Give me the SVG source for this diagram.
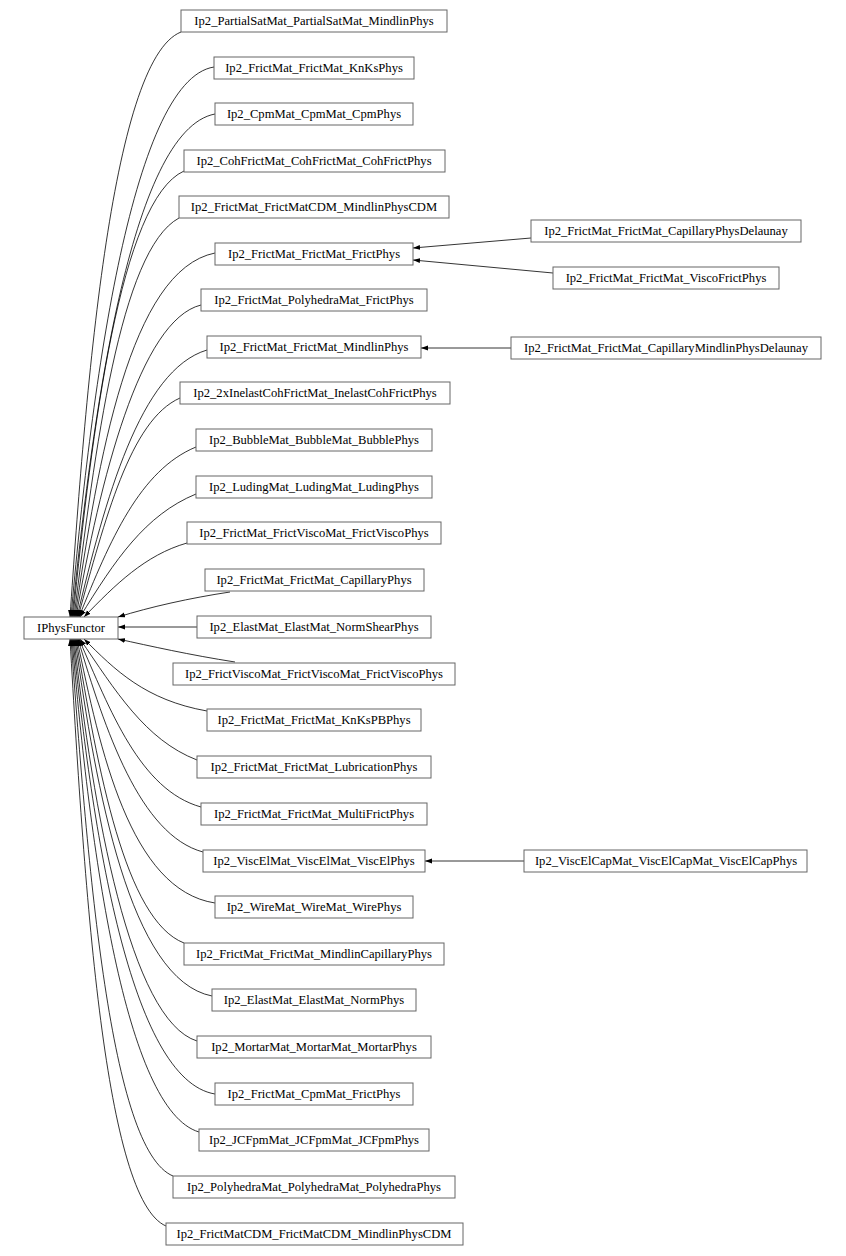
<svg xmlns="http://www.w3.org/2000/svg" width="846" height="1256" viewBox="0 0 846 1256">
<style>
.n rect{fill:#fff;stroke:#666;stroke-width:1}
text{font-family:"Liberation Serif",serif;font-size:12.6px;text-anchor:middle;fill:#000}
.e path{fill:none;stroke:#000;stroke-width:0.8}
</style>
<defs><marker id="a" viewBox="0 0 10 10" refX="10" refY="5" markerWidth="7" markerHeight="7" markerUnits="userSpaceOnUse" orient="auto"><path d="M0,1.5L10,5L0,8.5z" fill="#000"/></marker></defs>
<rect width="846" height="1256" style="fill:#fff;stroke:none"/>
<g class="e">
<path d="M181,32C110,60 85,400 70,617" marker-end="url(#a)"/>
<path d="M214,67C130,80 90,400 71,617" marker-end="url(#a)"/>
<path d="M215,114C130,130 92,420 72,617" marker-end="url(#a)"/>
<path d="M184,171C120,200 92,430 73,617" marker-end="url(#a)"/>
<path d="M179,218C120,250 95,450 74,617" marker-end="url(#a)"/>
<path d="M215,253C130,270 98,460 75,617" marker-end="url(#a)"/>
<path d="M201,305C140,320 100,480 76,617" marker-end="url(#a)"/>
<path d="M207,350C140,370 105,500 77,617" marker-end="url(#a)"/>
<path d="M180,398C130,420 105,520 78,617" marker-end="url(#a)"/>
<path d="M196,447C140,470 110,540 79,617" marker-end="url(#a)"/>
<path d="M196,494C145,515 115,560 80,617" marker-end="url(#a)"/>
<path d="M187,543C145,555 115,585 84,617" marker-end="url(#a)"/>
<path d="M230,592C190,598 150,607 118,617" marker-end="url(#a)"/>
<path d="M197,627L118,627" marker-end="url(#a)"/>
<path d="M235,662C190,655 150,646 118,639" marker-end="url(#a)"/>
<path d="M207,711C145,700 115,670 84,639" marker-end="url(#a)"/>
<path d="M197,760C145,740 115,690 80,639" marker-end="url(#a)"/>
<path d="M201,807C140,790 110,710 79,639" marker-end="url(#a)"/>
<path d="M203,852C140,835 105,730 78,639" marker-end="url(#a)"/>
<path d="M215,903C130,890 100,750 77,639" marker-end="url(#a)"/>
<path d="M184,943C125,920 98,770 76,639" marker-end="url(#a)"/>
<path d="M212,996C130,980 96,790 75,639" marker-end="url(#a)"/>
<path d="M197,1041C130,1020 93,810 74,639" marker-end="url(#a)"/>
<path d="M215,1094C130,1080 92,830 73,639" marker-end="url(#a)"/>
<path d="M199,1132C125,1110 90,850 72,639" marker-end="url(#a)"/>
<path d="M173,1176C110,1150 88,870 71,639" marker-end="url(#a)"/>
<path d="M166,1226C105,1200 85,900 70,639" marker-end="url(#a)"/>
<path d="M531,238L413,248" marker-end="url(#a)"/>
<path d="M553,273L413,260" marker-end="url(#a)"/>
<path d="M511,348L421,348" marker-end="url(#a)"/>
<path d="M524,861L425,861" marker-end="url(#a)"/>
</g>
<g class="n">
<g id="IPhysFunctor"><rect x="24" y="617" width="94" height="22"/><text x="71" y="632">IPhysFunctor</text></g>
<g id="n0"><rect x="181" y="10" width="266" height="22"/><text x="314" y="25">Ip2_PartialSatMat_PartialSatMat_MindlinPhys</text></g>
<g id="n1"><rect x="214" y="57" width="200" height="22"/><text x="314" y="72">Ip2_FrictMat_FrictMat_KnKsPhys</text></g>
<g id="n2"><rect x="215" y="103" width="198" height="22"/><text x="314" y="118">Ip2_CpmMat_CpmMat_CpmPhys</text></g>
<g id="n3"><rect x="184" y="150" width="261" height="22"/><text x="314" y="165">Ip2_CohFrictMat_CohFrictMat_CohFrictPhys</text></g>
<g id="n4"><rect x="179" y="196" width="270" height="22"/><text x="314" y="211">Ip2_FrictMat_FrictMatCDM_MindlinPhysCDM</text></g>
<g id="n5"><rect x="215" y="243" width="198" height="22"/><text x="314" y="258">Ip2_FrictMat_FrictMat_FrictPhys</text></g>
<g id="n6"><rect x="201" y="289" width="226" height="22"/><text x="314" y="304">Ip2_FrictMat_PolyhedraMat_FrictPhys</text></g>
<g id="n7"><rect x="207" y="336" width="214" height="22"/><text x="314" y="351">Ip2_FrictMat_FrictMat_MindlinPhys</text></g>
<g id="n8"><rect x="180" y="382" width="270" height="22"/><text x="315" y="397">Ip2_2xInelastCohFrictMat_InelastCohFrictPhys</text></g>
<g id="n9"><rect x="196" y="429" width="236" height="22"/><text x="314" y="444">Ip2_BubbleMat_BubbleMat_BubblePhys</text></g>
<g id="n10"><rect x="196" y="476" width="236" height="22"/><text x="314" y="491">Ip2_LudingMat_LudingMat_LudingPhys</text></g>
<g id="n11"><rect x="187" y="522" width="254" height="22"/><text x="314" y="537">Ip2_FrictMat_FrictViscoMat_FrictViscoPhys</text></g>
<g id="n12"><rect x="205" y="569" width="219" height="22"/><text x="314" y="584">Ip2_FrictMat_FrictMat_CapillaryPhys</text></g>
<g id="n13"><rect x="197" y="616" width="234" height="22"/><text x="314" y="631">Ip2_ElastMat_ElastMat_NormShearPhys</text></g>
<g id="n14"><rect x="173" y="663" width="282" height="22"/><text x="314" y="678">Ip2_FrictViscoMat_FrictViscoMat_FrictViscoPhys</text></g>
<g id="n15"><rect x="207" y="709" width="214" height="22"/><text x="314" y="724">Ip2_FrictMat_FrictMat_KnKsPBPhys</text></g>
<g id="n16"><rect x="197" y="756" width="234" height="22"/><text x="314" y="771">Ip2_FrictMat_FrictMat_LubricationPhys</text></g>
<g id="n17"><rect x="201" y="803" width="226" height="22"/><text x="314" y="818">Ip2_FrictMat_FrictMat_MultiFrictPhys</text></g>
<g id="n18"><rect x="203" y="850" width="222" height="22"/><text x="314" y="865">Ip2_ViscElMat_ViscElMat_ViscElPhys</text></g>
<g id="n19"><rect x="215" y="896" width="198" height="22"/><text x="314" y="911">Ip2_WireMat_WireMat_WirePhys</text></g>
<g id="n20"><rect x="184" y="943" width="260" height="22"/><text x="314" y="958">Ip2_FrictMat_FrictMat_MindlinCapillaryPhys</text></g>
<g id="n21"><rect x="212" y="989" width="204" height="22"/><text x="314" y="1004">Ip2_ElastMat_ElastMat_NormPhys</text></g>
<g id="n22"><rect x="197" y="1036" width="234" height="22"/><text x="314" y="1051">Ip2_MortarMat_MortarMat_MortarPhys</text></g>
<g id="n23"><rect x="215" y="1083" width="198" height="22"/><text x="314" y="1098">Ip2_FrictMat_CpmMat_FrictPhys</text></g>
<g id="n24"><rect x="199" y="1129" width="230" height="22"/><text x="314" y="1144">Ip2_JCFpmMat_JCFpmMat_JCFpmPhys</text></g>
<g id="n25"><rect x="173" y="1176" width="282" height="22"/><text x="314" y="1191">Ip2_PolyhedraMat_PolyhedraMat_PolyhedraPhys</text></g>
<g id="n26"><rect x="166" y="1223" width="297" height="22"/><text x="314" y="1238">Ip2_FrictMatCDM_FrictMatCDM_MindlinPhysCDM</text></g>
<g id="r0"><rect x="531" y="220" width="270" height="22"/><text x="666" y="235">Ip2_FrictMat_FrictMat_CapillaryPhysDelaunay</text></g>
<g id="r1"><rect x="553" y="267" width="226" height="22"/><text x="666" y="282">Ip2_FrictMat_FrictMat_ViscoFrictPhys</text></g>
<g id="r2"><rect x="511" y="337" width="310" height="22"/><text x="666" y="352">Ip2_FrictMat_FrictMat_CapillaryMindlinPhysDelaunay</text></g>
<g id="r3"><rect x="524" y="850" width="283" height="22"/><text x="666" y="865">Ip2_ViscElCapMat_ViscElCapMat_ViscElCapPhys</text></g>
</g>
</svg>
